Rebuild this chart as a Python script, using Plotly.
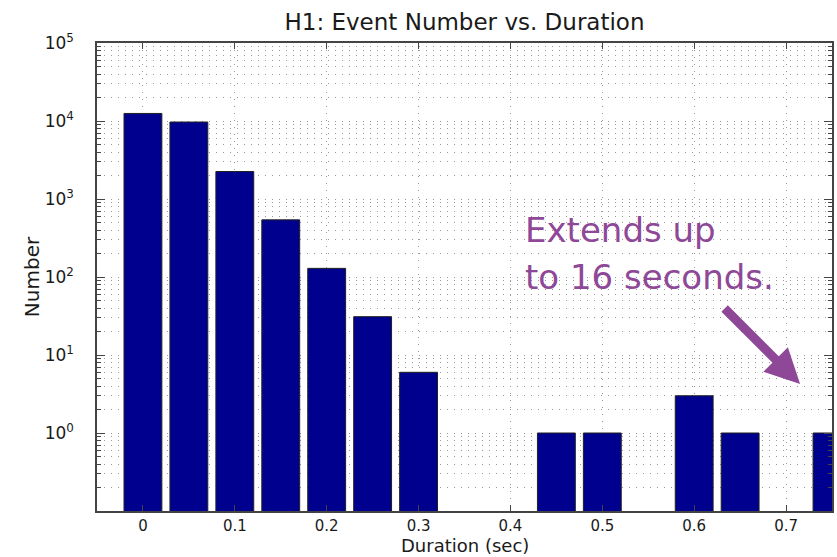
import plotly.graph_objects as go

# Histogram of event durations (bin centres in seconds) and event counts
durations = [0.00, 0.05, 0.10, 0.15, 0.20, 0.25, 0.30, 0.35,
             0.40, 0.45, 0.50, 0.55, 0.60, 0.65, 0.70, 0.75]
counts = [12500, 9700, 2250, 540, 129, 31, 6, 0,
          0, 1, 1, 0, 3, 1, 0, 1]

x_tick_vals = [0.0, 0.1, 0.2, 0.3, 0.4, 0.5, 0.6, 0.7]
x_tick_text = ["0", "0.1", "0.2", "0.3", "0.4", "0.5", "0.6", "0.7"]
y_exponents = [0, 1, 2, 3, 4, 5]

y_tick_vals = [10 ** e for e in y_exponents]
y_tick_text = [f"10<sup>{e}</sup>" for e in y_exponents]
y_minor_vals = [m * 10 ** e for e in range(-1, 5) for m in range(2, 10)]

FONT = "DejaVu Sans"
INK = "#1a1a1a"
BAR_BLUE = "#00008f"
PURPLE = "#8e4897"
GRID = dict(gridcolor="#9a9a9a", griddash="1px,6px", gridwidth=1)

fig = go.Figure()
fig.add_trace(go.Bar(
    x=durations,
    y=[c if c > 0 else None for c in counts],
    width=0.0412,
    marker=dict(color=BAR_BLUE, line=dict(color="#202020", width=1)),
))

fig.update_layout(
    width=837, height=557,
    margin=dict(l=97, r=3, t=43, b=46),
    paper_bgcolor="white", plot_bgcolor="white",
    showlegend=False,
    font=dict(family=FONT, size=16, color=INK),
    title=dict(
        text="H1: Event Number vs. Duration",
        font=dict(family=FONT, size=23, color=INK),
        x=0.5, xanchor="center", xref="paper",
        y=1 - 22 / 557, yanchor="middle", yref="container",
    ),
)

fig.update_xaxes(
    range=[-0.05, 0.75],
    tickmode="array", tickvals=x_tick_vals, ticktext=x_tick_text,
    ticks="inside", ticklen=6, tickcolor="#444", tickwidth=1,
    showline=True, linecolor="#444", linewidth=1.5, mirror="ticks",
    showgrid=True, **GRID,
    zeroline=False,
    ticklabelstandoff=0,
    tickfont=dict(family=FONT, size=15, color=INK),
)

fig.update_yaxes(
    type="log", range=[-1, 5],
    tickmode="array", tickvals=y_tick_vals, ticktext=y_tick_text,
    ticks="inside", ticklen=8, tickcolor="#444", tickwidth=1,
    showline=True, linecolor="#444", linewidth=1.5, mirror="ticks",
    showgrid=True, **GRID,
    minor=dict(tickmode="array", tickvals=y_minor_vals, ticks="inside", ticklen=4,
               tickcolor="#444", showgrid=True, **GRID),
    zeroline=False,
    ticklabelstandoff=18,
    tickfont=dict(family=FONT, size=17, color=INK),
    title=dict(text="Number", font=dict(family=FONT, size=20, color=INK),
               standoff=0),
)

# x-axis title, set just below the tick labels
fig.add_annotation(text="Duration (sec)", x=0.5, y=0, xref="paper", yref="paper",
                   xanchor="center", yanchor="top", yshift=-23, borderpad=0,
                   showarrow=False, font=dict(family=FONT, size=18, color=INK))

# Callout noting that the distribution continues past the plotted range
# (annotation y positions on a log axis are given as log10 values)
fig.add_annotation(text="Extends up", x=0.4135, y=2.609, xref="x", yref="y",
                   xanchor="left", yanchor="middle", showarrow=False,
                   font=dict(family=FONT, size=34, color=PURPLE))
fig.add_annotation(text="to 16 seconds.", x=0.4135, y=1.994, xref="x", yref="y",
                   xanchor="left", yanchor="middle", showarrow=False,
                   font=dict(family=FONT, size=34, color=PURPLE))
fig.add_annotation(text="", x=0.7153, y=0.628, xref="x", yref="y",
                   ax=-77, ay=-77, axref="pixel", ayref="pixel",
                   showarrow=True, arrowhead=2, arrowsize=0.77, arrowwidth=9,
                   arrowcolor=PURPLE)

fig.write_html("out.html")
